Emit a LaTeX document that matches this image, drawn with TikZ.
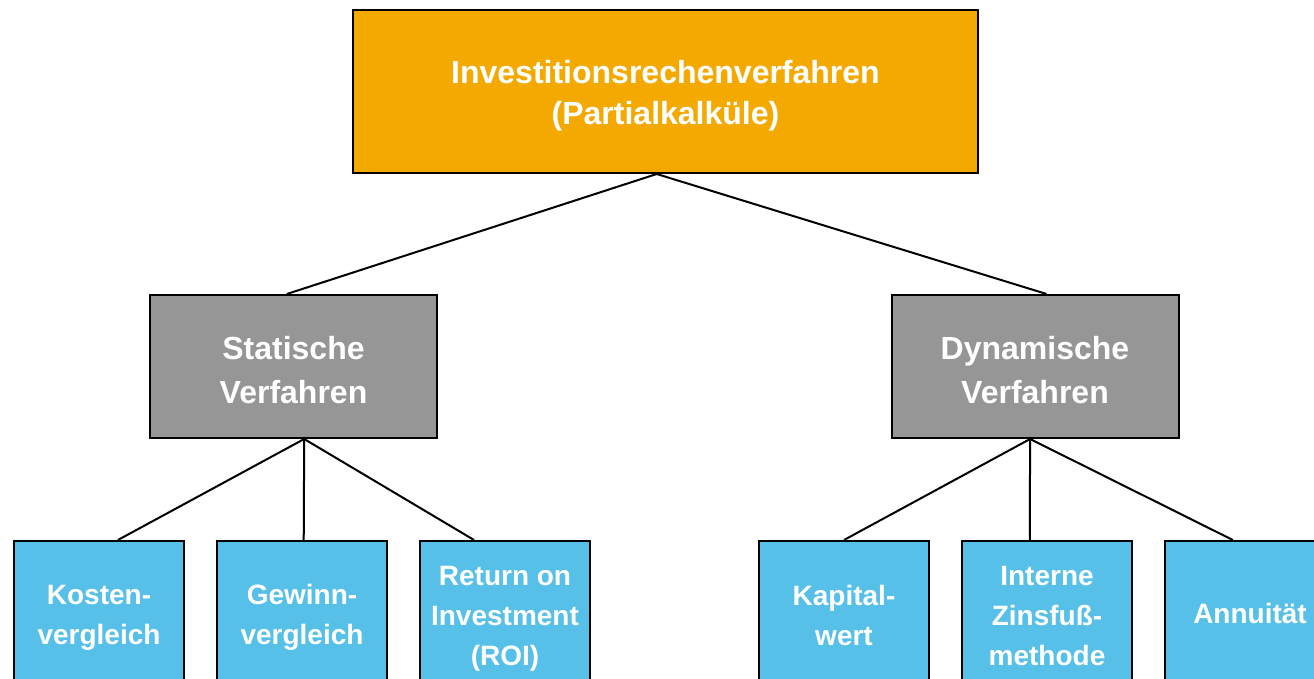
\documentclass[tikz,border=0pt]{standalone}
\usepackage{fontspec}
\setmainfont{Liberation Sans}
\usetikzlibrary{calc}
\definecolor{topor}{RGB}{244,169,0}
\definecolor{midgray}{RGB}{150,150,150}
\definecolor{leafblue}{RGB}{86,192,232}
\newcommand{\hstrut}[1]{\rule{0pt}{#1}}
\tikzset{
  box/.style={draw=black, line width=2pt, text=white, align=center, inner sep=0pt},
  topbox/.style={box, fill=topor, minimum width=625pt, minimum height=163pt, font=\bfseries\fontsize{32}{41}\selectfont},
  midbox/.style={box, fill=midgray, minimum width=287pt, minimum height=143pt, font=\bfseries\fontsize{32}{44}\selectfont},
  leafbox/.style={box, fill=leafblue, minimum width=170pt, minimum height=144pt, font=\bfseries\fontsize{28}{40}\selectfont},
  conn/.style={draw=black, line width=2pt}
}
\begin{document}
\begin{tikzpicture}[x=1pt,y=-1pt]
\useasboundingbox (0,0) rectangle (1314,679);
\clip (0,0) rectangle (1314,679);
\fill[white] (0,0) rectangle (1314,679);

\node[topbox] (top) at (665.5,91.5) {\hstrut{32pt}Investitionsrechenverfahren\\(Partialkalküle)};
\node[midbox] (stat) at (293.5,366.5) {\hstrut{31pt}Statische\\Verfahren};
\node[midbox] (dyn) at (1035,366.5) {\hstrut{31pt}Dynamische\\Verfahren};

\node[leafbox] (kost) at (99,613) {\hstrut{28pt}Kosten-\\vergleich};
\node[leafbox] (gew) at (302,613) {\hstrut{28pt}Gewinn-\\vergleich};
\node[leafbox] (roi) at (505,613) {\hstrut{30pt}Return on\\Investment\\(ROI)};
\node[leafbox] (kap) at (844,613) {\hstrut{25pt}Kapital-\\wert};
\node[leafbox] (izf) at (1047,613) {\hstrut{26pt}Interne\\Zinsfuß-\\methode};
\node[leafbox] (ann) at (1250,613) {Annuität};

\draw[conn] ($(top.south west)!0.486!(top.south east)$) -- ($(stat.north west)!0.477!(stat.north east)$);
\draw[conn] ($(top.south west)!0.486!(top.south east)$) -- ($(dyn.north west)!0.54!(dyn.north east)$);

\draw[conn] ($(stat.south west)!0.537!(stat.south east)$) -- ($(kost.north west)!0.61!(kost.north east)$);
\draw[conn] ($(stat.south west)!0.537!(stat.south east)$) -- ($(gew.north west)!0.51!(gew.north east)$);
\draw[conn] ($(stat.south west)!0.537!(stat.south east)$) -- ($(roi.north west)!0.32!(roi.north east)$);

\draw[conn] ($(dyn.south west)!0.483!(dyn.south east)$) -- ($(kap.north west)!0.5!(kap.north east)$);
\draw[conn] ($(dyn.south west)!0.483!(dyn.south east)$) -- ($(izf.north west)!0.4!(izf.north east)$);
\draw[conn] ($(dyn.south west)!0.483!(dyn.south east)$) -- ($(ann.north west)!0.4!(ann.north east)$);
\end{tikzpicture}
\end{document}
